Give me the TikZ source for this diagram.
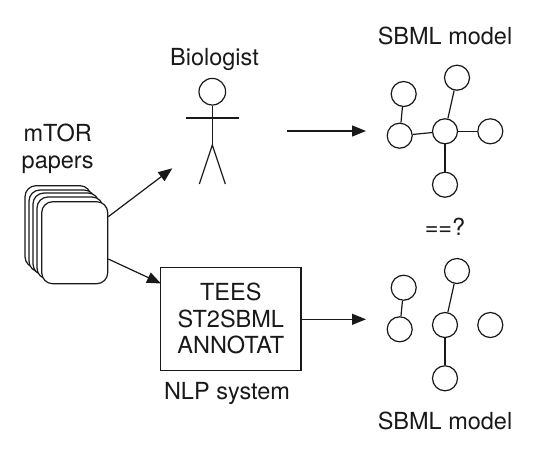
\documentclass[tikz,border=0pt]{standalone}
\usepackage{fontspec}
\setmainfont{TeX Gyre Heros}
\usetikzlibrary{arrows.meta}
\definecolor{ink}{gray}{0.1}
\tikzset{
  ln/.style={draw=ink,line width=1.2pt},
  gn/.style={circle,draw=ink,line width=1.2pt,fill=white,minimum size=25pt,inner sep=0pt},
  paper/.style={rectangle,rounded corners=11pt,draw=ink,line width=1.2pt,fill=white,minimum width=66pt,minimum height=82pt,inner sep=0pt},
  arr/.style={draw=ink,line width=1.2pt,-{Triangle[length=14pt,width=11pt]}},
  lab/.style={font=\fontsize{23.5pt}{26.5pt}\selectfont,text=ink,inner sep=0pt,align=center}
}
\begin{document}
\begin{tikzpicture}[x=1pt,y=-1pt]
\useasboundingbox (0,0) rectangle (540,456);
\node[lab] (tb) at (214.5,59.5) {Biologist};
\node[lab] (t1) at (445,36) {SBML model};
\node[lab] (t2) at (445,421) {SBML model};
\node[lab] (t3) at (57.7,149) {mTOR\\papers};
\node[lab] (t4) at (227,393) {NLP system};
\node[lab] (t5) at (445,227) {==?};
% stack
\node[paper] (p1) at (58,226.7) {};
\node[paper] (p2) at (62,231) {};
\node[paper] (p3) at (66,234) {};
\node[paper] (p4) at (70,238) {};
\node[paper] (p5) at (74.7,242.7) {};
% biologist
\node[circle,draw=ink,line width=1.2pt,minimum size=26.6pt,inner sep=0pt] (head) at (212.3,91.7) {};
\coordinate (hip) at (212.3,145);
\coordinate (armL) at (185.7,118);
\coordinate (armR) at (239,118);
\coordinate (legL) at (199.3,184);
\coordinate (legR) at (225.3,184);
\draw[ln] (head.south) -- (hip);
\draw[ln] (armL) -- (armR);
\draw[ln] (legL) -- (hip) -- (legR);
% box
\node[rectangle,draw=ink,line width=1.2pt,minimum width=140.3pt,minimum height=103pt,inner sep=0pt,lab] (box) at (230.8,318.8) {TEES\\ST2SBML\\ANNOTAT};
% top graph
\node[gn] (a1) at (403.7,94) {};
\node[gn] (a2) at (457,77.7) {};
\node[gn] (a3) at (399.7,135.7) {};
\node[gn] (a4) at (445,131.3) {};
\node[gn] (a5) at (490.3,131.3) {};
\node[gn] (a6) at (445,184.7) {};
\draw[ln] (a1) -- (a3);
\draw[ln] (a2) -- (a4);
\draw[ln] (a3) -- (a4);
\draw[ln] (a4) -- (a5);
\draw[ln] (a4) -- (a6);
% bottom graph
\node[gn] (b1) at (403.7,287.7) {};
\node[gn] (b2) at (457,271) {};
\node[gn] (b3) at (399.7,329.3) {};
\node[gn] (b4) at (445,325) {};
\node[gn] (b5) at (490.3,325) {};
\node[gn] (b6) at (445,378.3) {};
\draw[ln] (b1) -- (b3);
\draw[ln] (b2) -- (b4);
\draw[ln] (b4) -- (b6);
% arrows
\coordinate (c1) at (287,131);
\coordinate (c2) at (366,131);
\coordinate (c3) at (172.3,168.3);
\coordinate (c4) at (161,283.5);
\coordinate (c5) at (366,319.3);
\draw[arr] (p5.east |- 0,216.7) -- (c3);
\draw[arr] (p5.east |- 0,259) -- (c4);
\draw[arr] (c1) -- (c2);
\draw[arr] (box.east |- c5) -- (c5);
\end{tikzpicture}
\end{document}
